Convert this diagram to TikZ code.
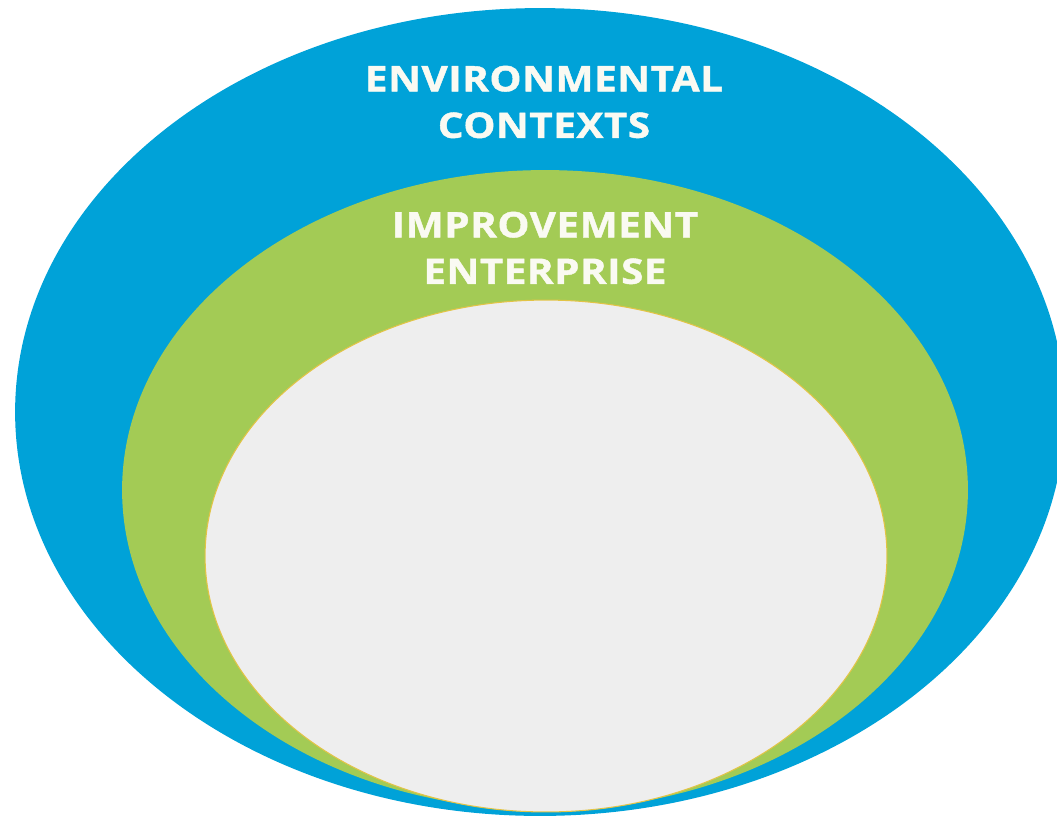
\documentclass[tikz,border=0pt]{standalone}
\usepackage{fontspec}
\setmainfont{Open Sans}
\newfontfamily\ringfont[FakeStretch=1.15, LetterSpace=1.5, FakeBold=1.2]{Open Sans}
\usetikzlibrary{shapes.geometric,positioning}

\definecolor{ctxblue}{RGB}{0,162,216}
\definecolor{entgreen}{RGB}{163,203,85}
\definecolor{coregray}{RGB}{238,238,238}
\definecolor{coreline}{RGB}{226,196,70}
\definecolor{labelwhite}{RGB}{250,250,242}

\begin{document}
\begin{tikzpicture}[x=0.02cm, y=-0.02cm,
% Ring style
		ring/.style={ellipse
							    , inner sep=0pt
							    , draw=none},
		core/.style={ellipse
							    , inner sep=0pt
							    , fill=coregray
							    , draw=coreline, line width=0.6pt},
% Label style
		ringlabel/.style={text=labelwhite
							    , font=\ringfont\fontsize{20}{26.5}\selectfont\bfseries
							    , align=center
							    , inner sep=0pt}
	]
	\useasboundingbox (0,0) rectangle (1057,815);
%% Draw rings
		\node [ring, fill=ctxblue, minimum width=21cm, minimum height=16.16cm] (outer) at (540,412) {};
		\node [ring, fill=entgreen, minimum width=16.92cm, minimum height=12.8cm] (middle) at (545,490) {};
		\node [core, minimum width=13.64cm, minimum height=10.24cm] (inner) at (546,556) {};
%% Labels
		\node [ringlabel] (envlabel) at (544,102) {ENVIRONMENTAL\\CONTEXTS};
		\node [ringlabel] (implabel) at (545,248) {IMPROVEMENT\\ENTERPRISE};
\end{tikzpicture}
\end{document}
